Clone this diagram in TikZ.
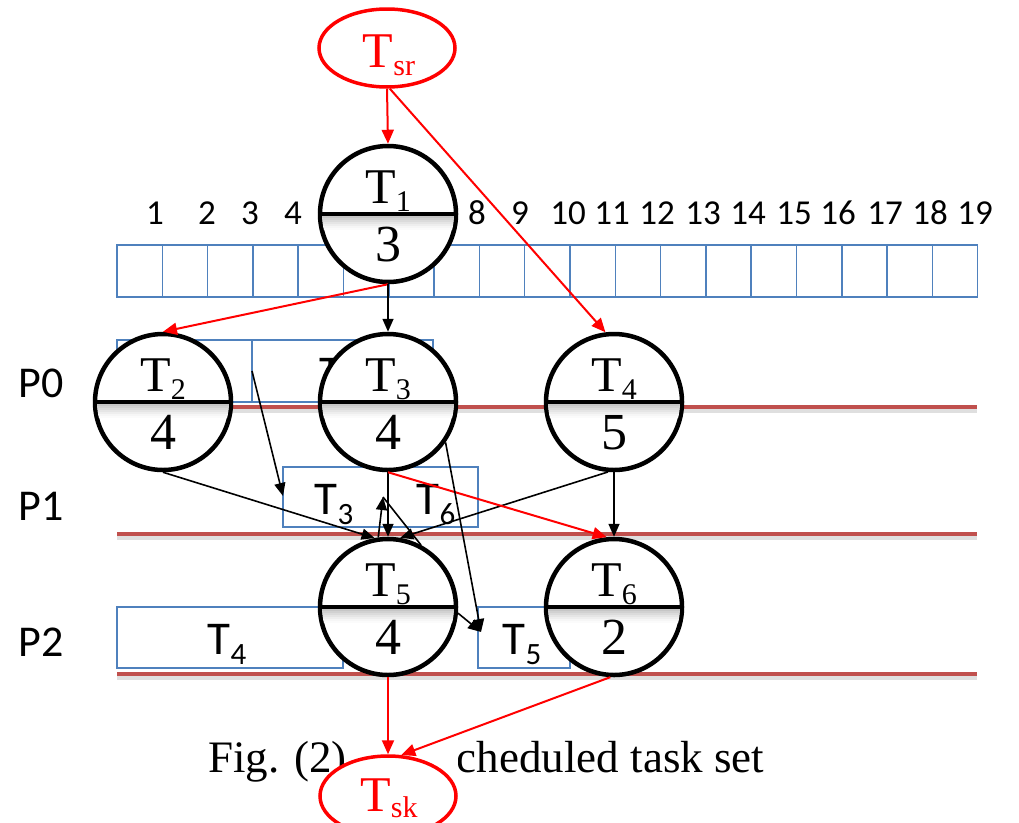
\documentclass[tikz,border=0pt]{standalone}
\usepackage{fontspec}
\setmainfont{Liberation Serif}
\newfontfamily\calib{Carlito}
\newfontfamily\tnr{Liberation Serif}
\usetikzlibrary{arrows.meta,calc,shapes.geometric}

\definecolor{boxblue}{HTML}{4F81BD}
\definecolor{procred}{HTML}{C0504D}
\definecolor{arrred}{HTML}{FF0000}

\newcommand\fs[1]{\fontsize{#1}{#1}\selectfont}
% serif task name with lowered index, e.g. T_3
\newcommand\circtxt[2]{{\tnr\fs{50}#1\raisebox{-8pt}{\fs{30}#2}}}
\newcommand\circnum[1]{{\tnr\fs{52}#1}}
% sans label used inside the schedule slots
\newcommand\boxtxt[2]{{\calib\fs{47}#1\raisebox{-10pt}{\fs{31}#2}}}

\tikzset{
  task/.style={circle, draw=black, line width=4.5pt, fill=white,
               minimum size=136pt, inner sep=0pt},
  terminal/.style={ellipse, draw=arrred, line width=3.5pt, fill=white,
               minimum width=136pt, minimum height=78pt, inner sep=0pt},
  slot/.style={draw=boxblue, line width=1.5pt, fill=white},
  proc/.style={draw=procred, line width=4.5pt},
  procshadow/.style={draw=gray, opacity=0.25, line width=4pt},
  blk/.style={draw=black, line width=1.6pt, -{Triangle[length=13pt,width=11pt]}},
  redarr/.style={draw=arrred, line width=2pt, -{Triangle[length=14pt,width=12pt]}},
  tnum/.style={anchor=base, font=\calib\fs{35}},
  plabel/.style={anchor=base west, font=\calib\fs{44}},
}

% task circle: name, x, y, index, weight
\newcommand\taskcircle[5]{%
  \node[task] (#1) at (#2,#3) {};
  \begin{scope}
    \clip (#2,#3) circle (66pt);
    \foreach \i/\c in {0/45,1/36,2/28,3/20,4/13,5/7,6/3}
      \draw[gray!\c, line width=2.2pt] (#2-70,#3+3+2*\i) -- (#2+70,#3+3+2*\i);
  \end{scope}
  \draw[line width=4.5pt] (#1.west) -- (#1.east);
  \node[anchor=base, inner sep=0pt] (#1-name) at (#2,#3-11) {\circtxt{T}{#4}};
  \node[anchor=base, inner sep=0pt] (#1-w) at (#2,#3+47) {\circnum{#5}};
}

\begin{document}
\begin{tikzpicture}[x=1pt, y=-1pt]
\useasboundingbox (0,0) rectangle (1019,822);
\fill[white] (0,0) rectangle (1019,822);

% time line with 19 slots
\foreach \k in {0,...,18}
  \draw[slot] (117+45.3*\k,245) rectangle (117+45.3*\k+45.3,297);
\foreach \n/\x in {1/155,2/207,3/250,4/293,8/477,9/520,10/568,11/612,
                   12/657,13/703,14/748,15/794,16/838,17/885,18/930,19/975}
  \node[tnum] (n\n) at (\x,224) {\n};

% processor lanes
\foreach \y/\p in {407/0,534/1,674/2}{
  \draw[procshadow] (117,\y+4) -- (977,\y+4);
  \draw[proc] (117,\y) -- (977,\y);
  \node[plabel] (P\p) at (15,\y-10-\p*4) {P\p};
}

% schedule slots
\draw[slot] (117,340) rectangle (252,402);
\draw[slot] (252,340) rectangle (433,402);
\node[anchor=base, inner sep=0pt] (s0b) at (339,388) {\boxtxt{T}{2}};
\draw[slot] (283,467) rectangle (478,527);
\node[anchor=base, inner sep=0pt] (s1a) at (334,514) {\boxtxt{T}{3}};
\node[anchor=base, inner sep=0pt] (s1b) at (436,514) {\boxtxt{T}{6}};
\draw[slot] (117,607) rectangle (343,668);
\node[anchor=base, inner sep=0pt] (s2a) at (227,654) {\boxtxt{T}{4}};
\draw[slot] (478,607) rectangle (570,668);
\node[anchor=base, inner sep=0pt] (s2b) at (522,654) {\boxtxt{T}{5}};

% caption
\node[anchor=base west, inner sep=0pt, font=\fs{45}] (cap) at (208,772)
  {Fig. (2) The scheduled task set};

% tasks
\taskcircle{T1}{388}{214}{1}{3}
\taskcircle{T2}{163}{402}{2}{4}
\taskcircle{T3}{388}{402}{3}{4}
\taskcircle{T4}{614}{402}{4}{5}
\taskcircle{T5}{388}{607}{5}{4}
\taskcircle{T6}{614}{607}{6}{2}

% source and sink; the sink sits on a white patch over the caption
\node[terminal] (Tsr) at (387,48) {};
\node[anchor=base, inner sep=0pt, text=arrred] (Tsr-name) at (389,67)
  {{\tnr\fs{50}T\raisebox{-8pt}{\fs{30}sr}}};
\fill[white] (347,733) rectangle (457.5,790);
\node[terminal, minimum height=80pt] (Tsk) at (388,796) {};
\node[anchor=base, inner sep=0pt, text=arrred] (Tsk-name) at (389,811)
  {{\tnr\fs{50}T\raisebox{-6pt}{\fs{30}sk}}};

% free ends of connectors
\coordinate (p0mark) at (252,371);
\coordinate (p1mark) at (283,496);
\coordinate (apex) at (383,497);
\coordinate (t5in) at (481,632);

% precedence edges
\draw[redarr] (Tsr.south) -- (T1.north);
\draw[redarr] (Tsr.-86) -- (T4.97);
\draw[redarr] (T1.south) -- (T2.north);
\draw[blk] (T1.south) -- (T3.north);
\draw[blk] (T2.south) -- (T5.101);
\draw[blk] (p0mark) -- (p1mark);
\draw[blk] (T3.south) -- (T5.north);
\draw[blk] (T5.98) -- (apex);
\draw[black, line width=1.6pt] (apex) -- (T5.62);
\draw[blk] (T4.-95) -- (T5.80);
\draw[blk] (T4.south) -- (T6.north);
\draw[redarr] (T3.south) -- (T6.96);
\draw[blk] (T3.-35) -- (t5in);
\draw[blk] (T5.-5) -- (t5in);
\draw[redarr] (T5.south) -- (Tsk.north);
\draw[redarr] (T6.-93) -- (Tsk.72);
\end{tikzpicture}
\end{document}
